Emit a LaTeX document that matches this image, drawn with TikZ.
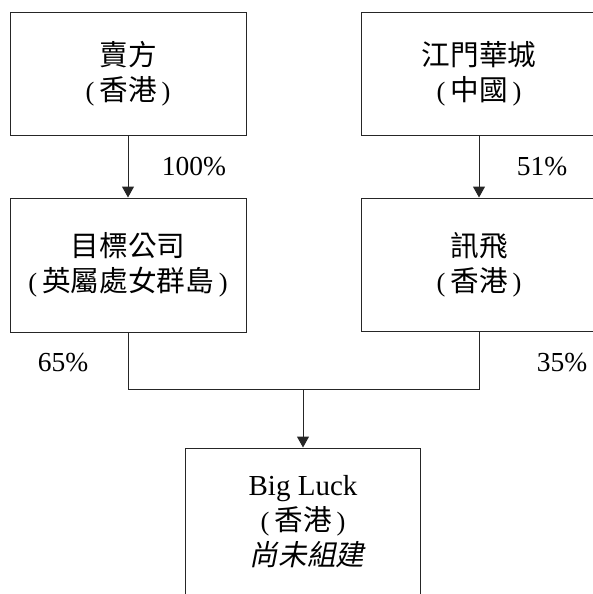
\documentclass[tikz,border=0pt]{standalone}
\usepackage{fontspec}
\setmainfont{Liberation Serif}
\newfontfamily\cjk[Scale=1.08]{Noto Sans CJK TC}
\newfontfamily\cjkit[Scale=1.08,FakeSlant=0.2]{Noto Sans CJK TC}
\usetikzlibrary{arrows.meta}
\newcommand\paren[1]{(\hspace{5pt}{\cjk #1}\hspace{5pt})}
\begin{document}
\begin{tikzpicture}[x=1pt,y=-1pt,
  box/.style={draw=black!85,line width=1pt,inner sep=0pt,align=center,
    font=\fontsize{26.5}{35}\selectfont},
  pct/.style={inner sep=0pt,font=\fontsize{27.5}{30}\selectfont},
  link/.style={draw=black!85,line width=1pt},
  arr/.style={link,-{Triangle[width=12pt,length=11pt]}}]
\useasboundingbox (0,0) rectangle (593,594);
\fill[white] (0,0) rectangle (593,594);
\node[box,minimum width=236pt,minimum height=122pt] (seller) at (128,74)
  {{\cjk 賣方}\\\paren{香港}};
\node[box,minimum width=236pt,minimum height=134pt] (target) at (128,265)
  {{\cjk 目標公司}\\\paren{英屬處女群島}};
\node[box,minimum width=236pt,minimum height=122pt] (jmhc) at (479,74)
  {{\cjk 江門華城}\\\paren{中國}};
\node[box,minimum width=236pt,minimum height=133pt] (xf) at (479,264.5)
  {{\cjk 訊飛}\\\paren{香港}};
\node[box,minimum width=235pt,minimum height=148pt] (bl) at (303,522)
  {{\fontsize{29}{35}\selectfont Big Luck}\\\paren{香港}\\\hspace{8pt}{\cjkit 尚未組建}};
\coordinate (j) at (303,389);
\draw[arr] (seller) -- (target);
\draw[arr] (jmhc) -- (xf);
\draw[link] (target.south) |- (j);
\draw[link] (xf.south) |- (j);
\draw[arr] (j) -- (bl.north);
\node[pct] (p100) at (194,167) {100\%};
\node[pct] (p51) at (542,167) {51\%};
\node[pct] (p65) at (63,363) {65\%};
\node[pct] (p35) at (562,363) {35\%};
\end{tikzpicture}
\end{document}
